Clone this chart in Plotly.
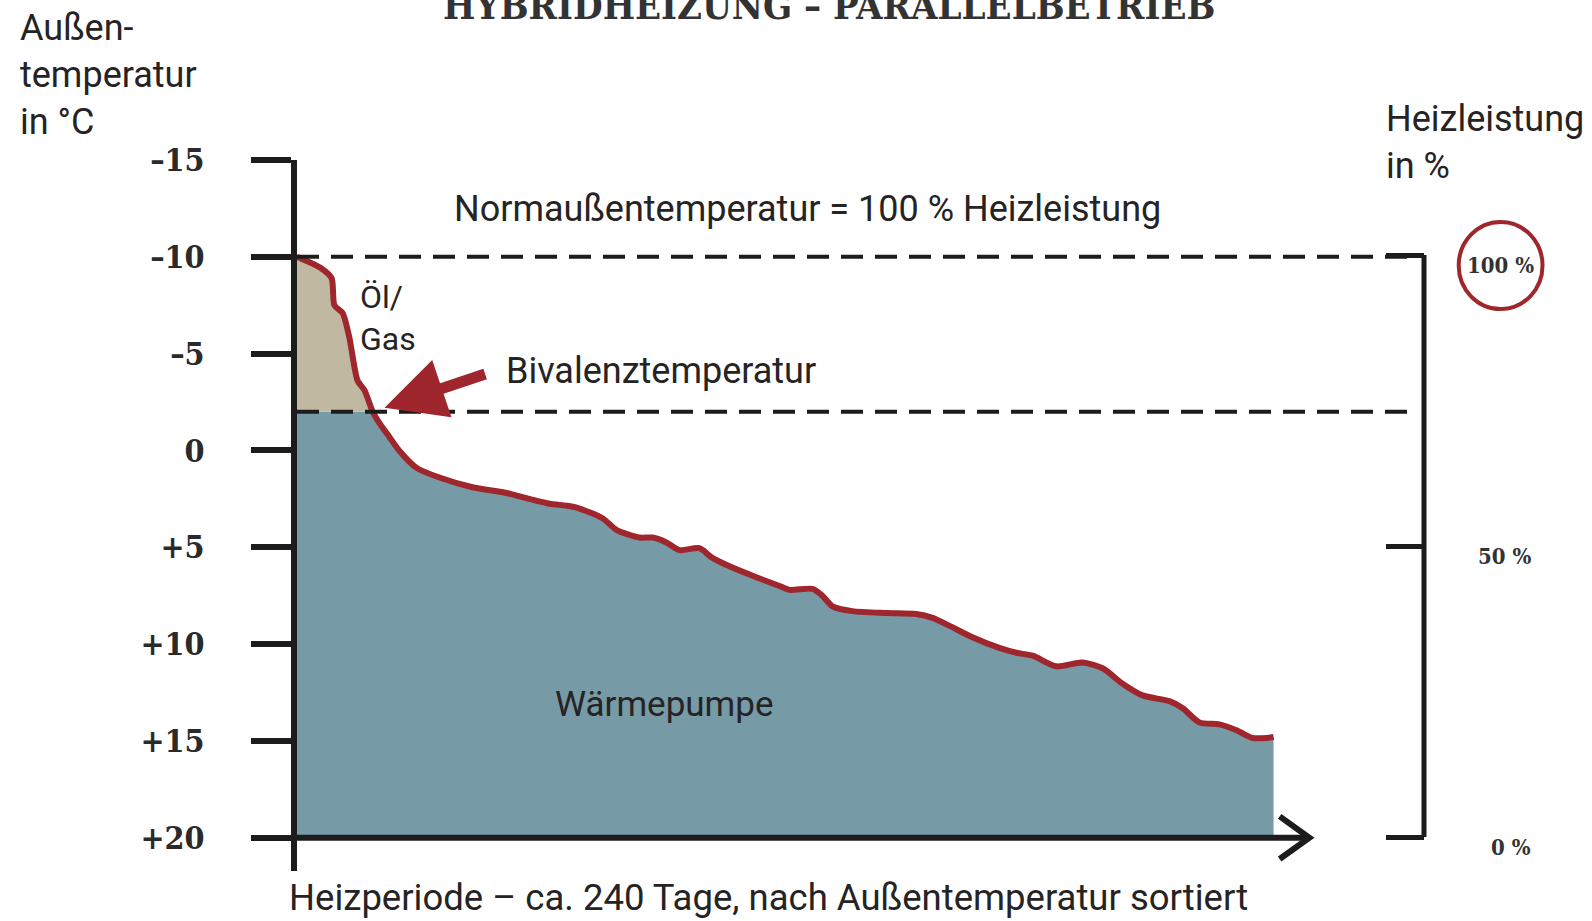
import plotly.graph_objects as go

# ---------------- data ----------------
days = [0, 6.0, 8.5, 9.2, 11.2, 12.9, 13.4, 14.9, 16.6, 18.6,
        20.3, 22.7, 25.1, 29.4, 35.0, 43.1, 51.5, 57.1, 62.1, 66.2,
        68.7, 75.1, 78.5, 84.2, 87.4, 90.8, 94.0, 98.9, 102.1, 107.0,
        112.9, 118.6, 121.0, 126.7, 129.1, 131.6, 136.5, 144.9, 152.2, 156.2,
        160.3, 166.0, 172.6, 176.8, 180.8, 186.6, 193.0, 198.0, 202.9, 207.8,
        214.4, 217.6, 221.8, 226.7, 230.9, 234.8, 238.3, 240.0]
temps = [-10, -9.4, -8.9, -7.5, -7.1, -5.8, -5.2, -3.6, -3.1, -2.0,
         -1.4, -0.7, 0.0, 0.9, 1.4, 1.9, 2.2, 2.5, 2.75, 2.85,
         2.95, 3.5, 4.1, 4.5, 4.5, 4.75, 5.15, 5.05, 5.55, 6.05,
         6.55, 7.0, 7.2, 7.15, 7.5, 8.05, 8.3, 8.4, 8.45, 8.65,
         9.05, 9.65, 10.2, 10.45, 10.6, 11.15, 10.95, 11.25, 12.05, 12.65,
         12.95, 13.3, 14.05, 14.15, 14.45, 14.85, 14.85, 14.8]

temp_ticks = [-15, -10, -5, 0, 5, 10, 15, 20]
temp_ticktext = ["–15", "–10", "–5", "0", "+5", "+10", "+15", "+20"]
power_ticks = [0, 50, 100]
power_ticktext = ["0 %", "50 %", "100 %"]

norm_temp = -10       # Normaußentemperatur
biv_temp = -2         # Bivalenztemperatur
t_max = 20            # lower end of temperature axis
period_days = 240

# ---------------- styling ----------------
BLUE = "#769aa6"
BEIGE = "#c1b8a1"
RED = "#9e262c"
INK = "#1c1c1c"
TXT = "#262324"
SANS = "Roboto, 'Open Sans', sans-serif"
TYPE = "'DejaVu Serif Condensed', 'Liberation Serif', serif"

W, H = 1592, 921
ML, MR, MT, MB = 297, 0, 160, 50
PW, PH = W - ML - MR, H - MT - MB


def px_x(px):
    return (px - ML) / PW


def px_y(py):
    return (H - MB - py) / PH


fig = go.Figure()

# blue area (heat pump)
biv_idx = temps.index(biv_temp)
blue_x = days + [days[-1], days[0]]
blue_y = [max(t, biv_temp) for t in temps] + [t_max, t_max]
fig.add_trace(go.Scatter(x=blue_x, y=blue_y, fill="toself", fillcolor=BLUE,
                         mode="lines", line=dict(width=0), hoverinfo="skip",
                         showlegend=False))
# beige area (oil / gas)
beige_x = [days[0]] + days[:biv_idx + 1]
beige_y = [biv_temp] + temps[:biv_idx + 1]
fig.add_trace(go.Scatter(x=beige_x, y=beige_y, fill="toself", fillcolor=BEIGE,
                         mode="lines", line=dict(width=0), hoverinfo="skip",
                         showlegend=False))
# red temperature curve
fig.add_trace(go.Scatter(x=days, y=temps, mode="lines",
                         line=dict(color=RED, width=6, shape="spline", smoothing=0.7),
                         showlegend=False))
# helper trace for the right axis
fig.add_trace(go.Scatter(x=[days[0], days[0]], y=[power_ticks[0], power_ticks[-1]],
                         yaxis="y2", mode="markers", marker=dict(opacity=0),
                         hoverinfo="skip", showlegend=False))

# dashed reference lines
fig.add_shape(type="line", x0=0, x1=274, y0=norm_temp, y1=norm_temp,
              line=dict(color=INK, width=4, dash="22px,12px"), layer="above")
fig.add_shape(type="line", x0=0, x1=275, y0=biv_temp, y1=biv_temp,
              line=dict(color=INK, width=4, dash="22px,12px"), layer="above")

# x axis line with chevron
fig.add_shape(type="line", x0=0, x1=248.5, y0=t_max, y1=t_max,
              line=dict(color=INK, width=6), layer="above")
fig.add_shape(type="path", path="M 241.5 18.9 L 248.8 20 L 241.5 21.1",
              line=dict(color=INK, width=6), layer="above")

# red circle around 100 %
fig.add_shape(type="circle", x0=285.5, x1=306.1, y0=-11.8, y1=-7.3,
              line=dict(color=RED, width=4), layer="above")

annotations = [
    dict(text="HYBRIDHEIZUNG – PARALLELBETRIEB", x=px_x(829), y=px_y(30),
         xanchor="center", yanchor="bottom",
         font=dict(family=TYPE, size=38, color="#333", weight="bold")),
    dict(text="Außen-<br>temperatur<br>in °C", x=px_x(18), y=px_y(75),
         xanchor="left", yanchor="middle", align="left",
         font=dict(family=SANS, size=36, color=TXT)),
    dict(text="Heizleistung<br>in %", x=px_x(1384), y=px_y(143),
         xanchor="left", yanchor="middle", align="left",
         font=dict(family=SANS, size=36, color=TXT)),
    dict(text="Normaußentemperatur = 100 % Heizleistung", x=px_x(807), y=px_y(209),
         xanchor="center", yanchor="middle",
         font=dict(family=SANS, size=36, color=TXT)),
    dict(text="Öl/<br>Gas", x=px_x(358), y=px_y(318),
         xanchor="left", yanchor="middle", align="left",
         font=dict(family=SANS, size=32, color=TXT)),
    dict(text="Bivalenztemperatur", x=px_x(504), y=px_y(371),
         xanchor="left", yanchor="middle",
         font=dict(family=SANS, size=36, color=TXT)),
    dict(text="Wärmepumpe", x=px_x(664), y=px_y(704),
         xanchor="center", yanchor="middle",
         font=dict(family=SANS, size=35, color=TXT)),
    dict(text="Heizperiode – ca. 240 Tage, nach Außentemperatur sortiert",
         x=px_x(287), y=px_y(897), xanchor="left", yanchor="middle",
         font=dict(family=SANS, size=36.5, color=TXT)),
    # Bivalenz arrow
    dict(text="", x=21.5, y=-2.2, xref="x", yref="y", ax=46.6, ay=-3.97,
         axref="x", ayref="y", showarrow=True, arrowhead=2, arrowsize=1.1,
         arrowwidth=11, arrowcolor=RED, standoff=0),
]
for v, t in zip(power_ticks, power_ticktext):
    if v == power_ticks[-1]:
        annotations.append(dict(text=t, x=px_x(1500), y=v, xref="paper", yref="y2",
                                xanchor="center", yanchor="middle", yshift=-10,
                                showarrow=False,
                                font=dict(family=TYPE, size=22, color="#333", weight="bold")))
    else:
        annotations.append(dict(text=t, x=px_x(1533), y=v, xref="paper", yref="y2",
                                xanchor="right", yanchor="middle", yshift=-10,
                                showarrow=False,
                                font=dict(family=TYPE, size=22, color="#333", weight="bold")))
for a in annotations:
    a.setdefault("xref", "paper")
    a.setdefault("yref", "paper")
    a.setdefault("showarrow", False)

# right axis: 0 % at +20 °C (y=837 px), 100 % at -10 °C (y=255 px); padded by 1 unit
pct_px = (837 - 255) / 100.0

fig.update_layout(
    width=W, height=H,
    margin=dict(l=ML, r=MR, t=MT, b=MB),
    paper_bgcolor="white", plot_bgcolor="rgba(0,0,0,0)",
    showlegend=False,
    xaxis=dict(range=[0, PW / 4.069], visible=False, fixedrange=True),
    yaxis=dict(range=[21.72, -15], domain=[0, 1], tickvals=temp_ticks,
               ticktext=temp_ticktext, ticks="outside", ticklen=40, tickwidth=6,
               tickcolor=INK, showline=True, linewidth=6, linecolor=INK,
               showgrid=False, zeroline=False, ticklabelstandoff=40,
               tickfont=dict(family=TYPE, size=32, color="#2a2a2a", weight="bold")),
    yaxis2=dict(range=[-1, 101], domain=[px_y(837 + pct_px), px_y(255 - pct_px)],
                anchor="free", position=px_x(1424), side="right",
                tickvals=power_ticks,
                ticks="inside", ticklen=38, tickwidth=5, tickcolor=INK,
                showline=False, showgrid=False,
                zeroline=False, showticklabels=False),
    annotations=annotations,
)

# right axis spine from 0 % to 100 %
fig.add_shape(type="line", xref="paper", yref="y2", x0=px_x(1424), x1=px_x(1424),
              y0=power_ticks[0], y1=power_ticks[-1], line=dict(color=INK, width=5))

fig.write_html("out.html", config={"displayModeBar": False},
               post_script="document.body.style.margin='0';document.body.style.overflow='hidden';")
